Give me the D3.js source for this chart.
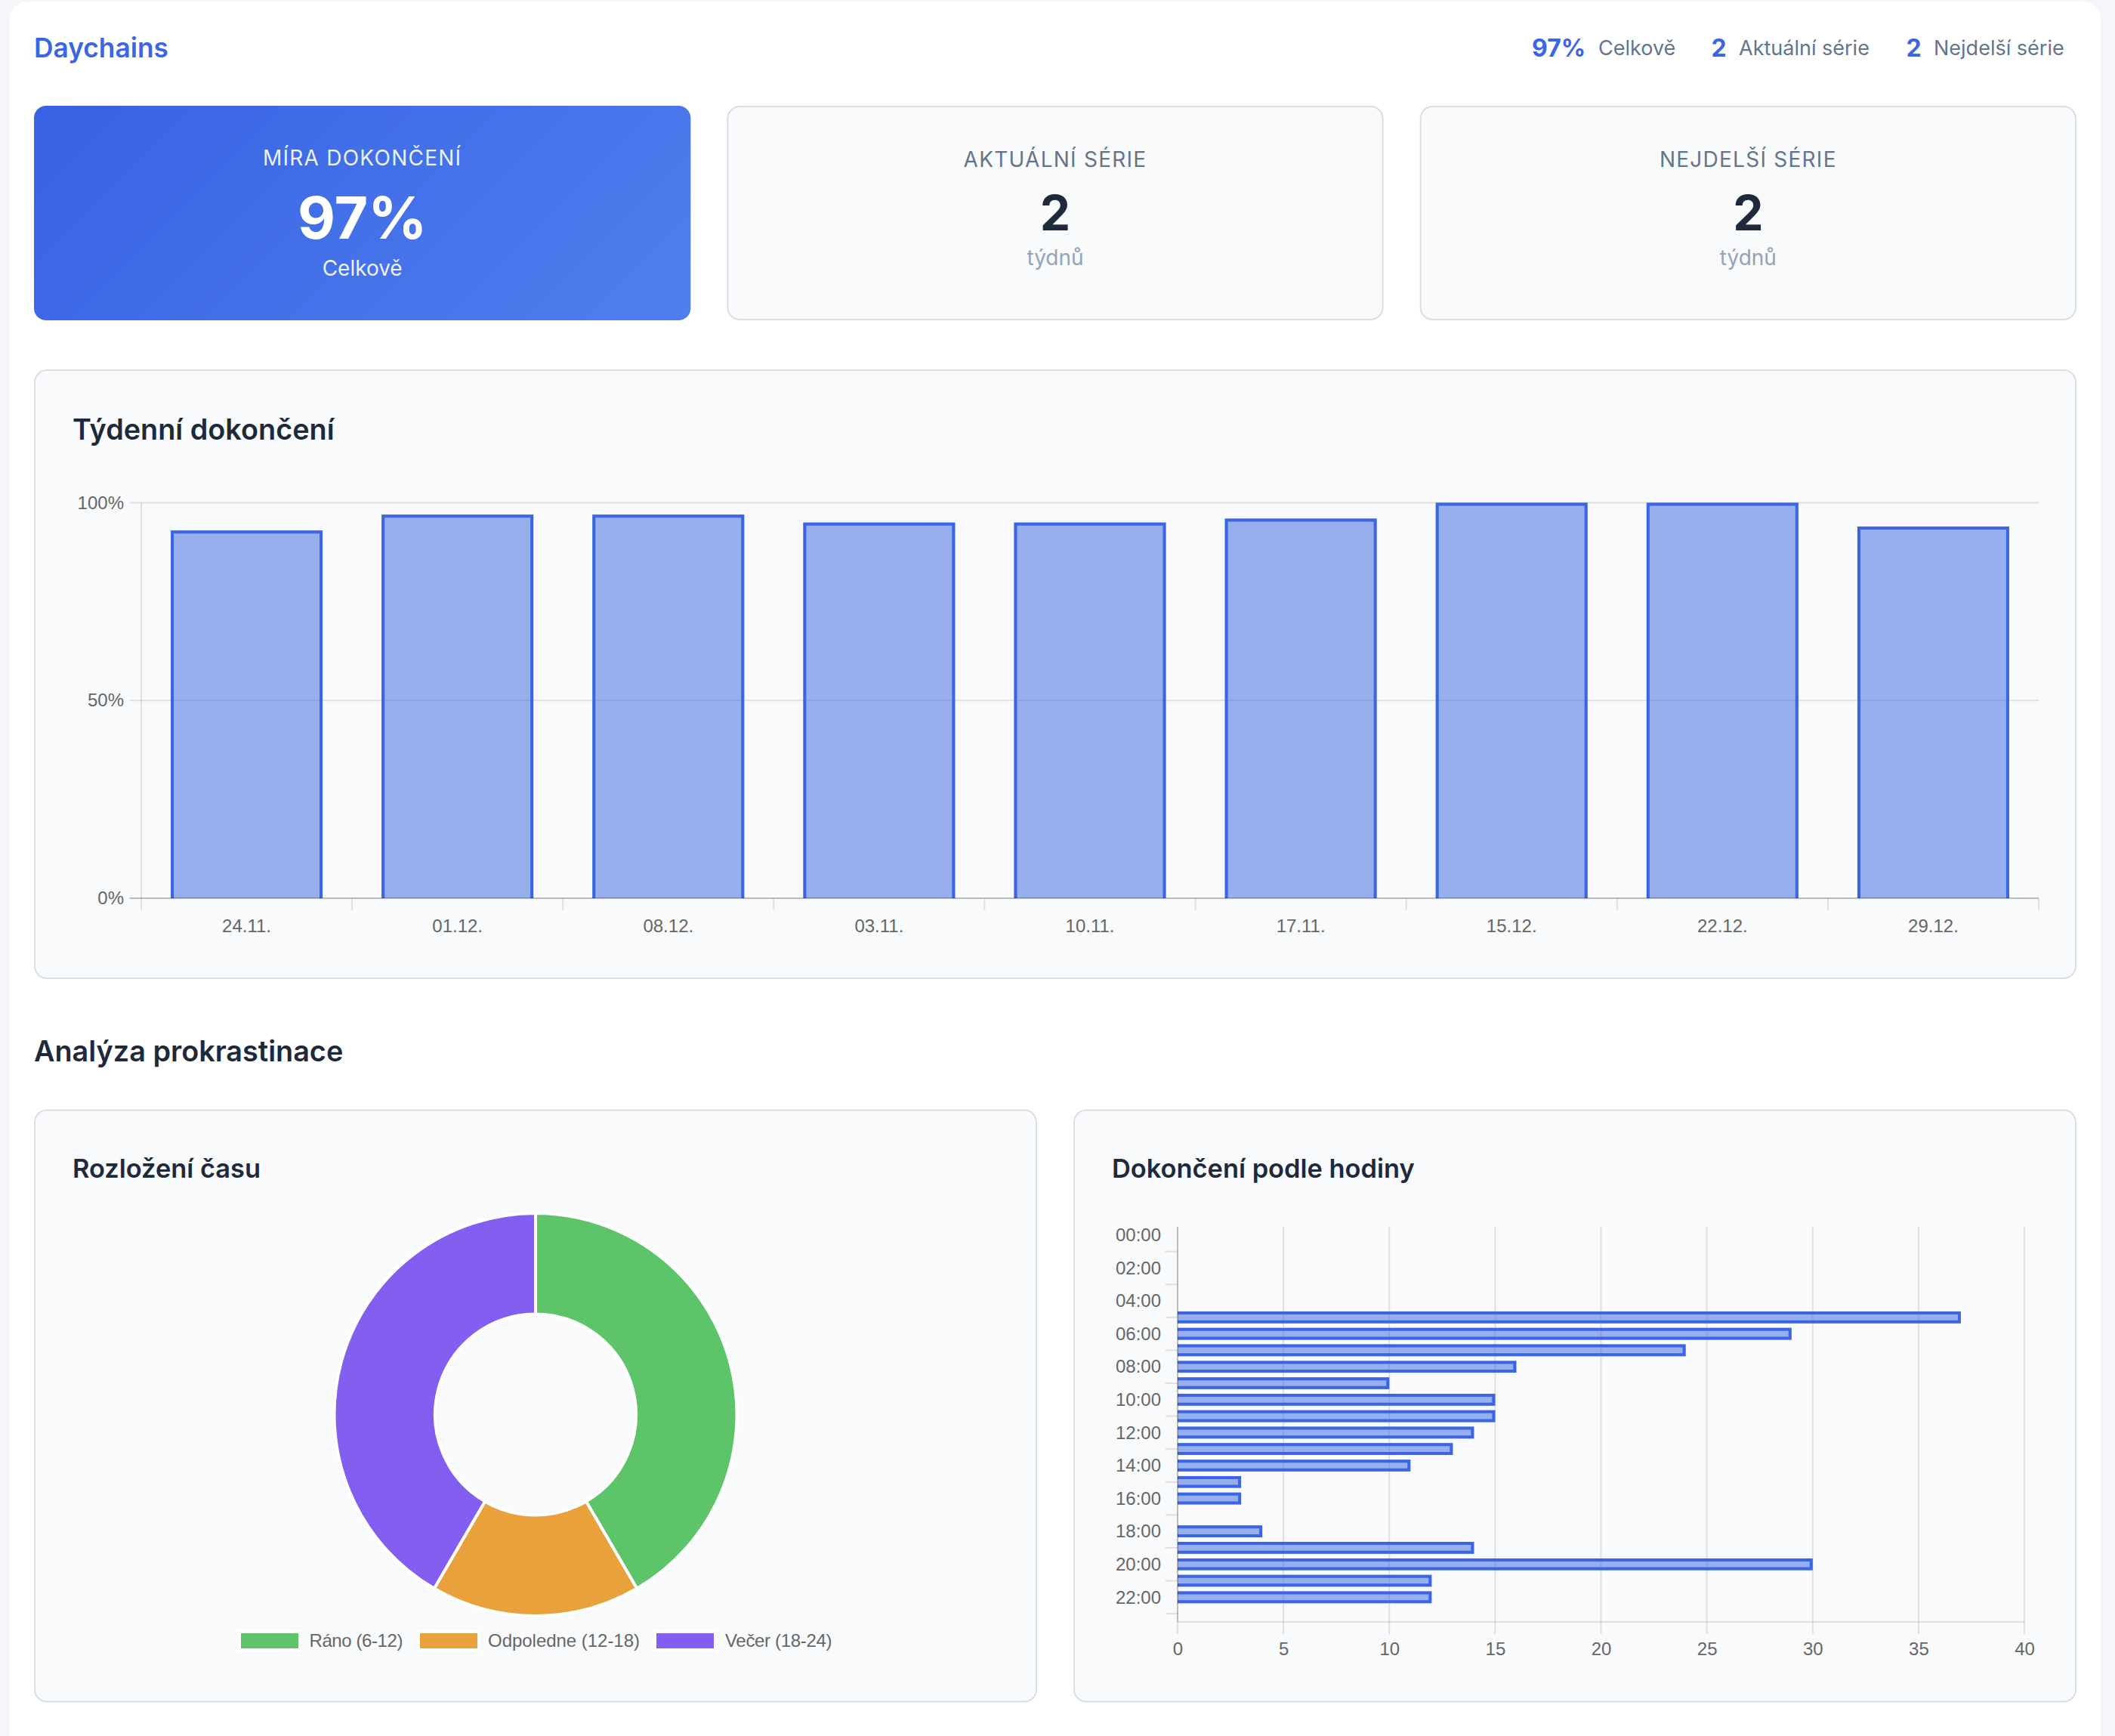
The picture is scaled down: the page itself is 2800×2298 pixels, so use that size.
<!DOCTYPE html>
<html>
<head>
<meta charset="utf-8">
<script src="https://cdn.jsdelivr.net/npm/d3@7"></script>
<style>
  html, body { margin: 0; padding: 0; background: #f5f6fa; }
  svg { display: block; }
  .ui { font-family: Inter, "Noto Sans", sans-serif; }
  .tickText { font-family: "Liberation Sans", Arial, sans-serif; font-size: 24px; fill: #666666; }
</style>
</head>
<body>
<svg id="page" width="2800" height="2298"></svg>
<script>
/* Weekly completion */
var weekLabels = ['24.11.', '01.12.', '08.12.', '03.11.', '10.11.', '17.11.', '15.12.', '22.12.', '29.12.'];
var weekValues = [93, 97, 97, 95, 95, 96, 100, 100, 94];
var weekTicks = [0, 50, 100];

/* Completions per hour */
var hourLabels = ['00:00', '01:00', '02:00', '03:00', '04:00', '05:00', '06:00', '07:00', '08:00', '09:00', '10:00', '11:00',
                  '12:00', '13:00', '14:00', '15:00', '16:00', '17:00', '18:00', '19:00', '20:00', '21:00', '22:00', '23:00'];
var hourValues = [0, 0, 0, 0, 0, 37, 29, 24, 16, 10, 15, 15, 14, 13, 11, 3, 3, 0, 4, 14, 30, 12, 12, 0];
var hourTicks = [0, 5, 10, 15, 20, 25, 30, 35, 40];

/* Time of day split */
var partLabels = ['Ráno (6-12)', 'Odpoledne (12-18)', 'Večer (18-24)'];
var partValues = [109, 44, 109];
var partColors = ['#5dc46a', '#e9a23b', '#845ef0'];

/* Summary texts */
var headerValues = ['97%', '2', '2'];
var headerNames = ['Celkově', 'Aktuální série', 'Nejdelší série'];
var cardLabels = ['MÍRA DOKONČENÍ', 'AKTUÁLNÍ SÉRIE', 'NEJDELŠÍ SÉRIE'];
var cardValues = ['97%', '2', '2'];
var cardUnits = ['Celkově', 'týdnů', 'týdnů'];

var BLUE = '#3b65e4';
var BLUE_FILL = 'rgba(55, 100, 222, 0.5)';
var GRID = 'rgba(0, 0, 0, 0.1)';
var AXIS = 'rgba(0, 0, 0, 0.25)';
var INK = '#1e293b';
var BORDER = 2;

var svg = d3.select('#page');

var defs = svg.append('defs');
var gradient = defs.append('linearGradient')
    .attr('id', 'blueCard')
    .attr('gradientUnits', 'userSpaceOnUse')
    .attr('x1', 192).attr('y1', -6)
    .attr('x2', 768).attr('y2', 570);
gradient.append('stop').attr('offset', '0%').attr('stop-color', '#3861e3');
gradient.append('stop').attr('offset', '100%').attr('stop-color', '#4f7fee');

/*
 * Page sheet and rounded panels.
 */
svg.append('rect')
    .attr('x', 13).attr('y', 2)
    .attr('width', 2768).attr('height', 2340)
    .attr('rx', 24)
    .attr('fill', '#ffffff');

function panel(x, y, w, h) {
    svg.append('rect')
        .attr('x', x + 1).attr('y', y + 1)
        .attr('width', w - 2).attr('height', h - 2)
        .attr('rx', 16)
        .attr('fill', '#f9fafc')
        .attr('stroke', '#d9dfe8')
        .attr('stroke-width', BORDER);
}

function text(x, y, str, size, weight, color, anchor) {
    return svg.append('text')
        .attr('class', 'ui')
        .attr('x', x).attr('y', y)
        .attr('font-size', size)
        .attr('font-weight', weight)
        .attr('fill', color)
        .attr('text-anchor', anchor || 'start')
        .text(str);
}

/*
 * Header row.
 */
text(45, 76, 'Daychains', 35.3, 600, BLUE);

var headerValueX = [2028, 2265.5, 2523.5];
var headerNameX = [2116, 2302, 2560];
headerValues.forEach(function(d, i) {
    text(headerValueX[i], 75, d, 32, 700, BLUE);
    text(headerNameX[i], 73, headerNames[i], 27, 400, '#64748b');
});

/*
 * Summary cards.
 */
var cardW = 869.33;
cardLabels.forEach(function(d, i) {
    var cardLeft = 45 + i * (cardW + 48);
    var centre = cardLeft + cardW / 2;
    var first = i === 0;
    if (first) {
        svg.append('rect')
            .attr('x', cardLeft).attr('y', 140)
            .attr('width', cardW).attr('height', 284)
            .attr('rx', 16)
            .attr('fill', 'url(#blueCard)');
    } else {
        panel(cardLeft, 140, cardW, 284);
    }
    text(centre, first ? 219 : 221, d, 28, 400, first ? 'rgba(255,255,255,0.92)' : '#64748b', 'middle')
        .attr('letter-spacing', 1.25);
    text(centre, first ? 316 : 305, cardValues[i], first ? 77 : 64, 700, first ? '#ffffff' : INK, 'middle');
    text(centre, first ? 365 : 351, cardUnits[i], 28, 400, first ? 'rgba(255,255,255,0.92)' : '#94a3b8', 'middle');
});

/*
 * Draw a bar outline inside its rect, leaving the base side open.
 */
function barOutline(x, y, w, h, horizontal) {
    var i = BORDER;
    var path = d3.path();
    if (horizontal) {
        path.moveTo(x, y + i);
        path.lineTo(x + w - i, y + i);
        path.lineTo(x + w - i, y + h - i);
        path.lineTo(x, y + h - i);
    } else {
        path.moveTo(x + i, y + h);
        path.lineTo(x + i, y + i);
        path.lineTo(x + w - i, y + i);
        path.lineTo(x + w - i, y + h);
    }
    return path.toString();
}

/*
 * Weekly chart.
 */
panel(45, 489, 2704, 807);
text(96, 582, 'Týdenní dokončení', 37.8, 600, INK);

var weekX = d3.scaleBand().domain(weekLabels).range([187, 2699]).paddingInner(0.28).paddingOuter(0.14);
var weekY = d3.scaleLinear().domain([0, 100]).range([1189, 665.5]);
var weekChart = svg.append('g');

weekChart.selectAll('line.grid')
    .data(weekTicks.filter(function(d) { return d > 0; }))
    .enter().append('line')
    .attr('x1', 171.5).attr('x2', 2699)
    .attr('y1', function(d) { return weekY(d); })
    .attr('y2', function(d) { return weekY(d); })
    .attr('stroke', GRID).attr('stroke-width', 2);

var weekEdges = weekLabels.map(function(d) { return weekX(d) - weekX.paddingOuter() * weekX.step(); });
weekEdges.push(weekX.range()[1]);
weekChart.selectAll('line.edge')
    .data(weekEdges)
    .enter().append('line')
    .attr('x1', function(d) { return d; }).attr('x2', function(d) { return d; })
    .attr('y1', function(d, i) { return i === 0 ? weekY(100) : weekY(0); })
    .attr('y2', weekY(0) + 16)
    .attr('stroke', GRID).attr('stroke-width', 2);

weekChart.selectAll('rect.bar')
    .data(weekValues)
    .enter().append('rect')
    .attr('x', function(d, i) { return weekX(weekLabels[i]); })
    .attr('y', function(d) { return weekY(d); })
    .attr('width', weekX.bandwidth())
    .attr('height', function(d) { return weekY(0) - weekY(d); })
    .attr('fill', BLUE_FILL);

weekChart.selectAll('path.barLine')
    .data(weekValues)
    .enter().append('path')
    .attr('d', function(d, i) {
        return barOutline(weekX(weekLabels[i]), weekY(d), weekX.bandwidth(), weekY(0) - weekY(d), false);
    })
    .attr('fill', 'none').attr('stroke', BLUE).attr('stroke-width', BORDER * 2);

weekChart.append('line')
    .attr('x1', 171.5).attr('x2', 2699)
    .attr('y1', weekY(0)).attr('y2', weekY(0))
    .attr('stroke', AXIS).attr('stroke-width', 2);

var weekLeft = weekChart.append('g')
    .attr('transform', 'translate(164,0)')
    .call(d3.axisLeft(weekY).tickValues(weekTicks).tickSize(0).tickPadding(0).tickFormat(function(d) { return d + '%'; }));
var weekBottom = weekChart.append('g')
    .attr('transform', 'translate(0,' + (weekY(0) + 28) + ')')
    .call(d3.axisBottom(weekX).tickSize(0).tickPadding(0));

/*
 * Section heading.
 */
text(45, 1405, 'Analýza prokrastinace', 37.8, 600, INK);

/*
 * Doughnut panel.
 */
panel(45, 1468.5, 1328, 785);
text(96, 1558.5, 'Rozložení času', 34.4, 600, INK);

var pie = d3.pie().sort(null).value(function(d) { return d; });
var arc = d3.arc().innerRadius(133).outerRadius(266.5);
var donut = svg.append('g').attr('transform', 'translate(709,1872.5)');
donut.selectAll('path')
    .data(pie(partValues))
    .enter().append('path')
    .attr('d', arc)
    .attr('fill', function(d, i) { return partColors[i]; })
    .attr('stroke', '#ffffff')
    .attr('stroke-width', 4);

var legendBoxX = [317, 554, 867];
var legendTextX = [409.5, 646, 960];
var legendTextW = [124, 201, 141.5];
partLabels.forEach(function(d, i) {
    svg.append('rect')
        .attr('x', legendBoxX[i]).attr('y', 2160)
        .attr('width', 80).attr('height', 24)
        .attr('fill', partColors[i])
        .attr('stroke', '#ffffff').attr('stroke-width', 4);
    svg.append('text')
        .attr('class', 'tickText')
        .attr('x', legendTextX[i]).attr('y', 2172)
        .attr('dy', '0.34em')
        .attr('textLength', legendTextW[i])
        .text(d);
});

/*
 * Hourly panel.
 */
panel(1421, 1468.5, 1328, 785);
text(1472, 1558.5, 'Dokončení podle hodiny', 34.4, 600, INK);

var hourX = d3.scaleLinear().domain([0, 40]).range([1559, 2680]);
var hourY = d3.scaleBand().domain(hourLabels).range([1624, 2147]).paddingInner(0.28).paddingOuter(0.14);
var hourChart = svg.append('g');

hourChart.selectAll('line.grid')
    .data(hourTicks.filter(function(d) { return d > 0; }))
    .enter().append('line')
    .attr('x1', function(d) { return hourX(d); })
    .attr('x2', function(d) { return hourX(d); })
    .attr('y1', hourY.range()[0]).attr('y2', hourY.range()[1] + 16)
    .attr('stroke', GRID).attr('stroke-width', 2);

hourChart.append('line')
    .attr('x1', hourX(0)).attr('x2', hourX(40))
    .attr('y1', hourY.range()[1]).attr('y2', hourY.range()[1])
    .attr('stroke', GRID).attr('stroke-width', 2);

hourChart.selectAll('line.tick')
    .data(hourLabels.filter(function(d, i) { return i % 2 === 1; }))
    .enter().append('line')
    .attr('x1', hourX(0) - 16).attr('x2', hourX(0))
    .attr('y1', function(d) { return hourY(d) + hourY.bandwidth() / 2; })
    .attr('y2', function(d) { return hourY(d) + hourY.bandwidth() / 2; })
    .attr('stroke', GRID).attr('stroke-width', 2);

var hourData = hourValues.map(function(d, i) { return { hour: hourLabels[i], value: d }; })
    .filter(function(d) { return d.value > 0; });

hourChart.selectAll('rect.bar')
    .data(hourData)
    .enter().append('rect')
    .attr('x', hourX(0))
    .attr('y', function(d) { return hourY(d.hour); })
    .attr('width', function(d) { return hourX(d.value) - hourX(0); })
    .attr('height', hourY.bandwidth())
    .attr('fill', BLUE_FILL);

hourChart.selectAll('path.barLine')
    .data(hourData)
    .enter().append('path')
    .attr('d', function(d) {
        return barOutline(hourX(0), hourY(d.hour), hourX(d.value) - hourX(0), hourY.bandwidth(), true);
    })
    .attr('fill', 'none').attr('stroke', BLUE).attr('stroke-width', BORDER * 2);

hourChart.append('line')
    .attr('x1', hourX(0)).attr('x2', hourX(0))
    .attr('y1', hourY.range()[0]).attr('y2', hourY.range()[1])
    .attr('stroke', AXIS).attr('stroke-width', 2);
hourChart.append('line')
    .attr('x1', hourX(0)).attr('x2', hourX(0))
    .attr('y1', hourY.range()[1]).attr('y2', hourY.range()[1] + 16)
    .attr('stroke', GRID).attr('stroke-width', 2);

var hourLeft = hourChart.append('g')
    .attr('transform', 'translate(1537,0.5)')
    .call(d3.axisLeft(hourY)
        .tickValues(hourLabels.filter(function(d, i) { return i % 2 === 0; }))
        .tickSize(0).tickPadding(0));
var hourBottom = hourChart.append('g')
    .attr('transform', 'translate(0,2174)')
    .call(d3.axisBottom(hourX).tickValues(hourTicks).tickSize(0).tickPadding(0));

/*
 * Shared axis text style.
 */
[weekLeft, weekBottom, hourLeft, hourBottom].forEach(function(axis) {
    axis.attr('font-family', null).attr('font-size', null);
    axis.select('.domain').remove();
    axis.selectAll('text').attr('class', 'tickText').style('fill', '#666666');
});
</script>
</body>
</html>
